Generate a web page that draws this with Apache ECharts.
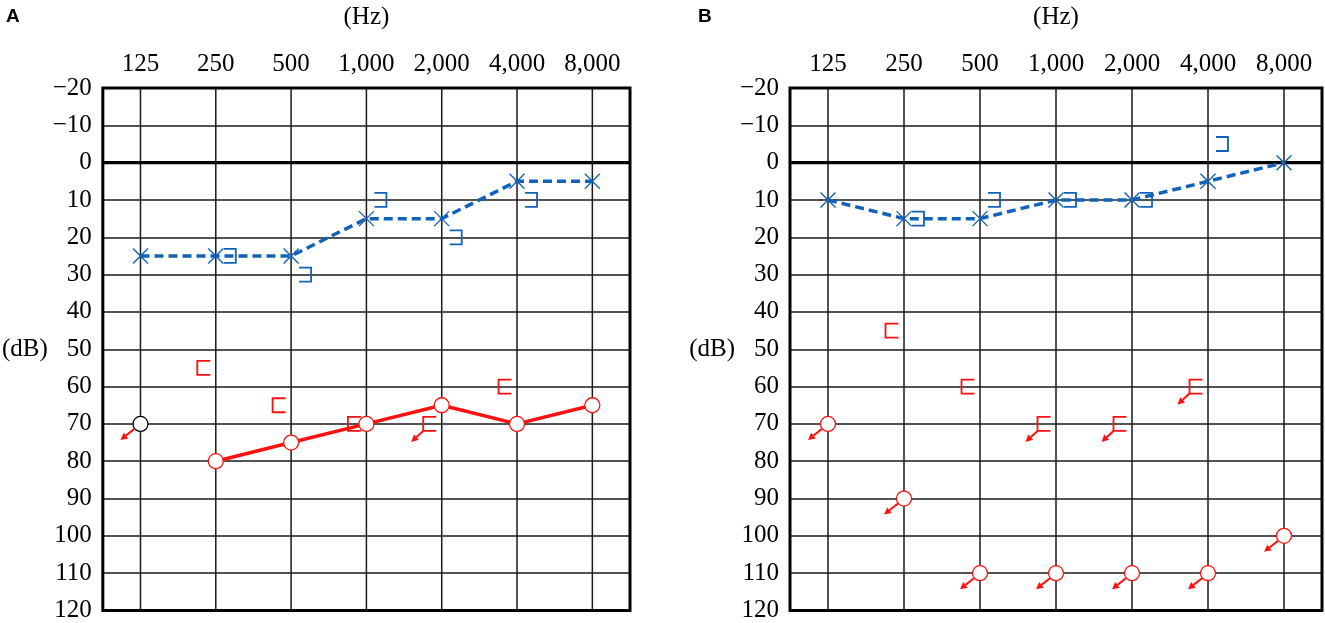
<!DOCTYPE html>
<html>
<head>
<meta charset="utf-8">
<script src="https://cdn.jsdelivr.net/npm/echarts@6/dist/echarts.min.js"></script>
<style>
html,body{margin:0;padding:0;background:#fff;}
#main{width:1325px;height:623px;}
</style>
</head>
<body>
<div id="main"></div>
<script>
// ---- data ----
const freqLabels = ['125', '250', '500', '1,000', '2,000', '4,000', '8,000'];
const zeroLevel = [0];
// Panel A
const aLeftAir = [25, 25, 25, 15, 15, 5, 5];
const aLeftBone = [null, 25, 30, 10, 20, 10, null];
const aRightAir = [null, 80, 75, 70, 65, 70, 65];
const aRightAirNoResp = [70, null, null, null, null, null, null];
const aRightBone = [null, 55, 65, 70, null, 60, null];
const aRightBoneNoResp = [null, null, null, null, 70, null, null];
// Panel B
const bLeftAir = [10, 15, 15, 10, 10, 5, 0];
const bLeftBone = [null, 15, 10, 10, 10, -5, null];
const bRightAirNoResp = [70, 90, 110, 110, 110, 110, 100];
const bRightBone = [null, 45, 60, null, null, null, null];
const bRightBoneNoResp = [null, null, null, 70, 70, 60, null];

// ---- styles ----
const BLUE = '#1262b9';
const RED = '#ff1010';
const GRIDC = '#1a1a1a';
const SERIF = 'Liberation Serif';

function pairs(arr) {
  const out = [];
  arr.forEach((v, i) => { if (v !== null && v !== undefined) out.push([i, v]); });
  return out;
}

function arrow(sx, sy, tx, ty, color) {
  const dx = tx - sx, dy = ty - sy;
  const len = Math.sqrt(dx * dx + dy * dy);
  const ux = dx / len, uy = dy / len;
  const hl = 7, hw = 3.6;
  const bx = tx - ux * hl, by = ty - uy * hl;
  const nx = -uy, ny = ux;
  return [
    { type: 'line', shape: { x1: sx, y1: sy, x2: bx, y2: by }, style: { stroke: color, lineWidth: 2 } },
    { type: 'polygon', shape: { points: [[tx, ty], [bx + nx * hw, by + ny * hw], [bx - nx * hw, by - ny * hw]] }, style: { fill: color } }
  ];
}

function markerSeries(gridIdx, arr, kind, color, noResp, arrowColor) {
  return {
    type: 'custom',
    xAxisIndex: gridIdx,
    yAxisIndex: gridIdx,
    z: 4,
    silent: true,
    data: pairs(arr),
    renderItem: function (params, api) {
      const p = api.coord([api.value(0), api.value(1)]);
      const cx = p[0], cy = p[1];
      const ch = [];
      if (kind === 'x') {
        const s = 7.5;
        ch.push({ type: 'line', shape: { x1: cx - s, y1: cy - s, x2: cx + s, y2: cy + s }, style: { stroke: color, lineWidth: 1.4 } });
        ch.push({ type: 'line', shape: { x1: cx - s, y1: cy + s, x2: cx + s, y2: cy - s }, style: { stroke: color, lineWidth: 1.4 } });
      } else if (kind === 'bracketRight') {
        const bx = cx + 14, w = 6, h = 7;
        ch.push({ type: 'polyline', shape: { points: [[bx - w, cy - h], [bx + w, cy - h], [bx + w, cy + h], [bx - w, cy + h]] }, style: { stroke: color, fill: null, lineWidth: 1.8 } });
      } else if (kind === 'bracketLeft') {
        const bx = cx - 12, w = 6.5, h = 7;
        ch.push({ type: 'polyline', shape: { points: [[bx + w, cy - h], [bx - w, cy - h], [bx - w, cy + h], [bx + w, cy + h]] }, style: { stroke: color, fill: null, lineWidth: 1.8 } });
        if (noResp) {
          ch.push.apply(ch, arrow(bx - w, cy + h, bx - w - 12, cy + h + 11, arrowColor || color));
        }
      } else if (kind === 'circle') {
        ch.push({ type: 'circle', shape: { cx: cx, cy: cy, r: 7.5 }, style: { stroke: color, fill: '#fff', lineWidth: 1.3 } });
        if (noResp) {
          ch.push.apply(ch, arrow(cx - 6, cy + 5, cx - 20, cy + 16, arrowColor || color));
        }
      }
      return { type: 'group', children: ch };
    }
  };
}

function gridLineSeries(gridIdx) {
  return {
    type: 'custom', xAxisIndex: gridIdx, yAxisIndex: gridIdx, z: 1, silent: true,
    data: freqLabels.map((_, i) => [i]),
    renderItem: function (params, api) {
      const i = api.value(0);
      const a = api.coord([i, -20]);
      const b = api.coord([i, 120]);
      return { type: 'line', shape: { x1: a[0], y1: a[1], x2: b[0], y2: b[1] }, style: { stroke: GRIDC, lineWidth: 1.5 } };
    }
  };
}

function zeroLineSeries(gridIdx) {
  return {
    type: 'custom', xAxisIndex: gridIdx, yAxisIndex: gridIdx, z: 1, silent: true,
    data: zeroLevel.map(v => [0, v]),
    renderItem: function (params, api) {
      const cs = params.coordSys;
      const y = api.coord([0, api.value(1)])[1];
      return { type: 'line', shape: { x1: cs.x, y1: y, x2: cs.x + cs.width, y2: y }, style: { stroke: '#000', lineWidth: 3.2 } };
    }
  };
}

function xAxisCfg(i) {
  return {
    type: 'category', gridIndex: i, position: 'top', data: freqLabels, boundaryGap: true,
    axisLine: { show: false }, axisTick: { show: false }, splitLine: { show: false },
    axisLabel: { interval: 0, margin: 11, color: '#000', fontFamily: SERIF, fontSize: 25 },
    name: '(Hz)', nameLocation: 'middle', nameGap: 58,
    nameTextStyle: { color: '#000', fontFamily: SERIF, fontSize: 25 }
  };
}
function yAxisCfg(i) {
  return {
    type: 'value', gridIndex: i, inverse: true, min: -20, max: 120, interval: 10,
    axisLine: { show: false }, axisTick: { show: false },
    axisLabel: {
      margin: 11, color: '#000', fontFamily: SERIF, fontSize: 25,
      formatter: v => (v < 0 ? '\u2212' + Math.abs(v) : String(v))
    },
    splitLine: { show: true, lineStyle: { color: GRIDC, width: 1.5 } },
    name: '(dB)', nameLocation: 'middle', nameRotate: 0, nameGap: 49,
    nameTextStyle: { color: '#000', fontFamily: SERIF, fontSize: 25 }
  };
}

const option = {
  animation: false,
  backgroundColor: '#fff',
  graphic: [
    { type: 'text', left: 6, top: 7, style: { text: 'A', fontSize: 19, fontWeight: 'bold', fontFamily: 'Liberation Sans', fill: '#000' } },
    { type: 'text', left: 698, top: 7, style: { text: 'B', fontSize: 19, fontWeight: 'bold', fontFamily: 'Liberation Sans', fill: '#000' } }
  ],
  grid: [
    { left: 98, top: 82, width: 532, height: 529, show: true, borderColor: '#000', borderWidth: 3, backgroundColor: 'transparent', z: 5 },
    { left: 790, top: 82, width: 532, height: 529, show: true, borderColor: '#000', borderWidth: 3, backgroundColor: 'transparent', z: 5 }
  ],
  xAxis: [xAxisCfg(0), xAxisCfg(1)],
  yAxis: [yAxisCfg(0), yAxisCfg(1)],
  series: [
    gridLineSeries(0), gridLineSeries(1),
    zeroLineSeries(0), zeroLineSeries(1),
    // Panel A lines
    { type: 'line', xAxisIndex: 0, yAxisIndex: 0, data: aLeftAir, symbol: 'none', z: 2, silent: true,
      lineStyle: { color: BLUE, width: 3.5, type: [9, 5] } },
    { type: 'line', xAxisIndex: 0, yAxisIndex: 0, data: aRightAir, symbol: 'none', z: 2, silent: true,
      lineStyle: { color: RED, width: 3.5 } },
    // Panel B lines
    { type: 'line', xAxisIndex: 1, yAxisIndex: 1, data: bLeftAir, symbol: 'none', z: 2, silent: true,
      lineStyle: { color: BLUE, width: 3.5, type: [9, 5] } },
    // Panel A markers
    markerSeries(0, aLeftAir, 'x', BLUE),
    markerSeries(0, aLeftBone, 'bracketRight', BLUE),
    markerSeries(0, aRightAir, 'circle', RED),
    markerSeries(0, aRightAirNoResp, 'circle', '#000', true, RED),
    markerSeries(0, aRightBone, 'bracketLeft', RED),
    markerSeries(0, aRightBoneNoResp, 'bracketLeft', RED, true),
    // Panel B markers
    markerSeries(1, bLeftAir, 'x', BLUE),
    markerSeries(1, bLeftBone, 'bracketRight', BLUE),
    markerSeries(1, bRightAirNoResp, 'circle', RED, true),
    markerSeries(1, bRightBone, 'bracketLeft', RED),
    markerSeries(1, bRightBoneNoResp, 'bracketLeft', RED, true)
  ]
};

const chart = echarts.init(document.getElementById('main'), null, { renderer: 'canvas' });
chart.setOption(option);
</script>
</body>
</html>
